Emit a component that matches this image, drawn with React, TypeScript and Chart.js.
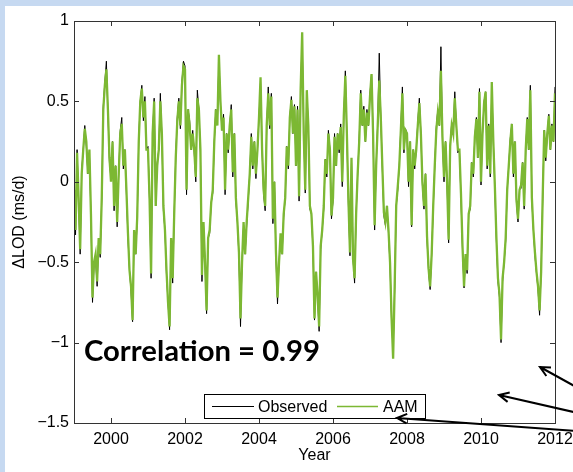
import { useEffect, useRef } from 'react';
import { Chart, registerables } from 'chart.js';

Chart.register(...registerables);

// ---- data (semi-monthly samples, starting 1999.0) ----
const START_YEAR = 1999;
const SAMPLES_PER_YEAR = 24;
const X_TICKS = [2000, 2002, 2004, 2006, 2008, 2010, 2012];
const Y_TICKS = [-1.5, -1, -0.5, 0, 0.5, 1];
const SERIES_LABELS = ['Observed', 'AAM'];
const CORRELATION_TEXT = 'Correlation = 0.99';
const X_TITLE = 'Year';
const Y_TITLE = '\u0394LOD (ms/d)';

const observed = [
  -0.08, -0.33, 0.2, -0.12, -0.45, 0.07, 0.2, 0.35, 0.22, 0.05, 0.18, -0.22, -0.75, -0.5, -0.48, -0.65, -0.35, -0.47, -0.1, 0.47, 0.62, 0.75, 0.43, 0.12,
  0.02, 0.25, -0.18, 0.1, -0.28, 0.05, 0.32, 0.4, 0.08, 0.2, -0.07, -0.35, -0.55, -0.68, -0.87, -0.32, -0.45, -0.24, 0.27, 0.5, 0.6, 0.38, 0.53, 0.2,
  0.22, -0.12, -0.6, 0.3, 0.52, -0.15, 0.12, 0.2, 0.55, 0.28, -0.18, -0.3, -0.58, -0.75, -0.92, -0.35, -0.63, -0.2, 0.16, 0.4, 0.52, 0.33, 0.62, 0.75,
  0.72, -0.08, 0.45, 0.38, 0.2, 0.32, 0.18, 0.0, 0.57, 0.45, 0.18, -0.62, -0.27, -0.5, -0.82, -0.35, -0.32, -0.13, -0.07, 0.25, 0.45, 0.37, 0.77, 0.48,
  0.32, 0.42, -0.08, 0.3, 0.18, 0.35, 0.48, 0.03, 0.3, -0.12, -0.25, -0.47, -0.9, -0.5, -0.27, -0.45, -0.27, -0.12, 0.05, 0.3, 0.08, 0.25, 0.02, 0.2,
  0.4, 0.62, 0.2, -0.08, -0.18, 0.35, 0.59, 0.33, 0.55, -0.26, 0.0, -0.47, -0.76, -0.5, -0.35, -0.45, -0.22, -0.1, 0.22, 0.08, 0.4, 0.53, 0.3, 0.48,
  0.1, 0.47, -0.12, 0.57, 0.9, 0.32, -0.07, 0.56, 0.35, -0.17, -0.2, -0.42, -0.86, -0.56, -0.72, -0.93, -0.42, -0.3, -0.17, 0.14, 0.03, 0.32, 0.2, -0.23,
  -0.12, 0.3, 0.1, 0.3, 0.18, 0.36, -0.03, 0.41, 0.69, 0.28, -0.14, -0.46, 0.13, -0.48, -0.63, -0.2, 0.05, 0.27, 0.57, 0.35, 0.47, 0.25, 0.45, 0.35,
  0.55, 0.67, 0.3, -0.3, 0.1, 0.37, 0.8, 0.4, 0.08, -0.21, -0.27, -0.15, -0.32, -0.52, -0.87, -1.05, -0.67, -0.15, -0.05, 0.1, 0.34, 0.59, 0.18, 0.33,
  0.3, -0.03, 0.25, -0.28, 0.2, 0.08, 0.2, 0.37, 0.52, 0.3, -0.02, -0.17, 0.05, -0.36, -0.56, -0.67, -0.45, -0.17, 0.1, 0.34, 0.45, 0.35, 0.84, 0.26,
  0.0, 0.25, -0.02, -0.38, 0.22, 0.37, 0.3, 0.56, 0.35, 0.18, 0.2, -0.1, -0.42, -0.66, -0.45, -0.57, -0.2, -0.17, 0.12, 0.03, 0.28, 0.4, 0.15, 0.58,
  -0.02, 0.3, 0.5, 0.56, 0.08, 0.36, 0.03, 0.6, 0.25, -0.05, -0.37, -0.62, -0.72, -1.0, -0.62, -0.5, -0.37, -0.05, 0.1, 0.27, 0.36, 0.03, 0.25, -0.13,
  -0.25, -0.05, -0.04, 0.12, -0.17, 0.2, 0.4, 0.2, 0.6, -0.12, -0.3, -0.46, -0.57, -0.67, -0.83, -0.56, -0.12, 0.32, 0.13, 0.3, 0.42, 0.2, 0.36, 0.25,
  0.59,
];

const aam = [
  -0.05, -0.3, 0.18, -0.1, -0.42, 0.05, 0.2, 0.33, 0.25, 0.05, 0.2, -0.2, -0.72, -0.5, -0.45, -0.62, -0.35, -0.45, -0.1, 0.45, 0.6, 0.7, 0.45, 0.15,
  0.0, 0.25, -0.15, 0.1, -0.25, 0.05, 0.3, 0.36, 0.1, 0.2, -0.05, -0.32, -0.55, -0.65, -0.86, -0.3, -0.45, -0.22, 0.25, 0.5, 0.58, 0.4, 0.5, 0.2,
  0.2, -0.1, -0.57, 0.3, 0.5, -0.15, 0.1, 0.2, 0.5, 0.3, -0.15, -0.3, -0.55, -0.75, -0.9, -0.35, -0.6, -0.2, 0.15, 0.38, 0.5, 0.35, 0.6, 0.72,
  0.7, -0.05, 0.45, 0.35, 0.2, 0.3, 0.2, 0.03, 0.52, 0.45, 0.2, -0.58, -0.25, -0.5, -0.8, -0.35, -0.3, -0.13, -0.05, 0.25, 0.45, 0.35, 0.79, 0.5,
  0.32, 0.4, -0.05, 0.3, 0.2, 0.35, 0.45, 0.06, 0.3, -0.1, -0.25, -0.44, -0.85, -0.5, -0.25, -0.45, -0.25, -0.1, 0.05, 0.28, 0.1, 0.25, 0.05, 0.2,
  0.4, 0.65, 0.2, -0.05, -0.15, 0.35, 0.55, 0.35, 0.53, -0.23, 0.0, -0.44, -0.72, -0.5, -0.32, -0.45, -0.2, -0.1, 0.22, 0.1, 0.4, 0.51, 0.3, 0.47,
  0.1, 0.45, -0.09, 0.57, 0.93, 0.3, -0.05, 0.57, 0.35, -0.15, -0.2, -0.4, -0.85, -0.56, -0.7, -0.9, -0.4, -0.3, -0.15, 0.14, 0.05, 0.3, 0.2, -0.21,
  -0.1, 0.28, 0.1, 0.3, 0.2, 0.34, 0.0, 0.41, 0.66, 0.3, -0.11, -0.44, 0.15, -0.48, -0.6, -0.2, 0.05, 0.25, 0.55, 0.35, 0.45, 0.25, 0.43, 0.35,
  0.53, 0.67, 0.3, -0.27, 0.1, 0.35, 0.63, 0.4, 0.1, -0.19, -0.25, -0.15, -0.3, -0.5, -0.85, -1.1, -0.65, -0.15, -0.03, 0.1, 0.32, 0.55, 0.2, 0.32,
  0.3, 0.0, 0.25, -0.27, 0.2, 0.1, 0.2, 0.35, 0.49, 0.3, 0.0, -0.15, 0.05, -0.34, -0.54, -0.65, -0.45, -0.15, 0.1, 0.32, 0.43, 0.35, 0.69, 0.28,
  0.03, 0.25, 0.0, -0.36, 0.22, 0.35, 0.3, 0.52, 0.35, 0.2, 0.2, -0.07, -0.4, -0.65, -0.45, -0.55, -0.2, -0.15, 0.12, 0.05, 0.28, 0.39, 0.15, 0.56,
  0.0, 0.3, 0.49, 0.56, 0.1, 0.35, 0.05, 0.62, 0.25, -0.03, -0.35, -0.6, -0.7, -0.98, -0.6, -0.5, -0.35, -0.05, 0.1, 0.25, 0.36, 0.05, 0.25, -0.11,
  -0.23, -0.05, -0.02, 0.12, -0.15, 0.2, 0.39, 0.2, 0.57, -0.1, -0.3, -0.44, -0.56, -0.65, -0.8, -0.56, -0.1, 0.32, 0.15, 0.3, 0.41, 0.2, 0.35, 0.25,
  0.55,
];

// ---- styling ----
const W = 573;
const H = 472;
const BLACK = '#000000';
const GREEN = '#7cb833';
const AXIS = '#333333';
const FONT = '"Liberation Sans", Arial, sans-serif';
const FS = 16;

const toPoints = (vals: number[]) =>
  vals.map((v, i) => ({ x: START_YEAR + i / SAMPLES_PER_YEAR, y: v }));

const fmt = (v: number) => (v < 0 ? '\u2212' + String(Math.abs(v)) : String(v));

const decor = {
  id: 'decor',
  afterDraw(chart: any) {
    const { ctx, chartArea } = chart;
    const { left, right, top, bottom } = chartArea;
    const xs = chart.scales.x;
    const ys = chart.scales.y;
    ctx.save();
    // axes box
    ctx.strokeStyle = AXIS;
    ctx.lineWidth = 1;
    ctx.strokeRect(Math.round(left) + 0.5, Math.round(top) + 0.5, Math.round(right - left), Math.round(bottom - top));
    // inward ticks
    const TL = 5;
    ctx.beginPath();
    X_TICKS.forEach((t) => {
      const px = Math.round(xs.getPixelForValue(t)) + 0.5;
      ctx.moveTo(px, bottom);
      ctx.lineTo(px, bottom - TL);
      ctx.moveTo(px, top);
      ctx.lineTo(px, top + TL);
    });
    Y_TICKS.forEach((t) => {
      const py = Math.round(ys.getPixelForValue(t)) + 0.5;
      ctx.moveTo(left, py);
      ctx.lineTo(left + TL, py);
      ctx.moveTo(right, py);
      ctx.lineTo(right - TL, py);
    });
    ctx.stroke();

    // correlation text
    ctx.fillStyle = '#000';
    ctx.font = 'bold 28px Lato, "Open Sans", sans-serif';
    ctx.textBaseline = 'alphabetic';
    ctx.textAlign = 'left';
    const target = 236;
    const w = ctx.measureText(CORRELATION_TEXT).width;
    ctx.save();
    ctx.translate(84, 361);
    ctx.scale(target / w, 1);
    ctx.fillText(CORRELATION_TEXT, 0, 0);
    ctx.restore();

    // legend box
    const lx = 204, ly = 394, lw = 221, lh = 24;
    ctx.fillStyle = '#fff';
    ctx.fillRect(lx, ly, lw, lh);
    ctx.strokeStyle = '#000';
    ctx.lineWidth = 1;
    ctx.strokeRect(lx + 0.5, ly + 0.5, lw, lh);
    const ds = chart.data.datasets;
    const cy = ly + lh / 2 + 0.5;
    ctx.font = FS + 'px ' + FONT;
    ctx.textBaseline = 'middle';
    ctx.fillStyle = '#000';
    // Observed
    ctx.strokeStyle = ds[0].borderColor;
    ctx.lineWidth = 1;
    ctx.beginPath();
    ctx.moveTo(212, cy);
    ctx.lineTo(254, cy);
    ctx.stroke();
    ctx.fillText(ds[0].label, 258, cy + 1);
    // AAM
    ctx.strokeStyle = ds[1].borderColor;
    ctx.lineWidth = 1.5;
    ctx.beginPath();
    ctx.moveTo(337, cy);
    ctx.lineTo(378, cy);
    ctx.stroke();
    ctx.fillText(ds[1].label, 383, cy + 1);

    // arrows
    const arrow = (x1: number, y1: number, x2: number, y2: number) => {
      ctx.strokeStyle = '#000';
      ctx.lineWidth = 2;
      ctx.beginPath();
      ctx.moveTo(x1, y1);
      ctx.lineTo(x2, y2);
      const a = Math.atan2(y2 - y1, x2 - x1);
      const hl = 11;
      ctx.moveTo(x2 - hl * Math.cos(a - 0.45), y2 - hl * Math.sin(a - 0.45));
      ctx.lineTo(x2, y2);
      ctx.lineTo(x2 - hl * Math.cos(a + 0.45), y2 - hl * Math.sin(a + 0.45));
      ctx.stroke();
    };
    arrow(578, 388, 540, 367);
    arrow(578, 413, 499, 395);
    arrow(578, 431, 397, 418);
    ctx.restore();
  },
};

export default function App() {
  const ref = useRef<HTMLCanvasElement | null>(null);

  useEffect(() => {
    if (!ref.current) return;
    const chart = new Chart(ref.current, {
      type: 'line',
      data: {
        datasets: [
          {
            label: SERIES_LABELS[0],
            data: toPoints(observed),
            borderColor: BLACK,
            borderWidth: 1,
            pointRadius: 0,
            tension: 0,
            order: 1,
          },
          {
            label: SERIES_LABELS[1],
            data: toPoints(aam),
            borderColor: GREEN,
            borderWidth: 2.3,
            pointRadius: 0,
            tension: 0,
            order: 0,
          },
        ],
      },
      options: {
        animation: false,
        responsive: false,
        devicePixelRatio: 1,
        layout: { padding: { left: 0, top: 21, right: 18, bottom: 0 } },
        plugins: { legend: { display: false }, tooltip: { enabled: false } },
        scales: {
          x: {
            type: 'linear',
            min: START_YEAR,
            max: 2012,
            grid: { display: false, drawTicks: false },
            border: { display: false },
            afterBuildTicks: (s: any) => {
              s.ticks = X_TICKS.map((v) => ({ value: v }));
            },
            afterFit: (s: any) => {
              s.height = 49;
              s.paddingLeft = 0;
              s.paddingRight = 0;
            },
            ticks: {
              padding: 7,
              maxRotation: 0,
              autoSkip: false,
              color: '#000',
              font: { family: FONT, size: FS },
              callback: (v: any) => String(v),
            },
            title: {
              display: true,
              text: X_TITLE,
              color: '#000',
              font: { family: FONT, size: FS },
              padding: { top: 0, bottom: 7 },
            },
          },
          y: {
            min: -1.5,
            max: 1,
            grid: { display: false, drawTicks: false },
            border: { display: false },
            afterBuildTicks: (s: any) => {
              s.ticks = Y_TICKS.map((v) => ({ value: v }));
            },
            afterFit: (s: any) => {
              s.width = 74;
              s.paddingTop = 0;
              s.paddingBottom = 0;
            },
            ticks: {
              padding: 5,
              autoSkip: false,
              color: '#000',
              font: { family: FONT, size: FS },
              callback: (v: any) => fmt(Number(v)),
            },
            title: {
              display: true,
              text: Y_TITLE,
              color: '#000',
              font: { family: FONT, size: FS },
              padding: { top: 10, bottom: 0 },
            },
          },
        },
      },
      plugins: [decor],
    });
    return () => chart.destroy();
  }, []);

  return (
    <div style={{ position: 'fixed', left: 0, top: 0, width: W, height: H, background: '#c6d9f1', overflow: 'hidden' }}>
      <div style={{ position: 'absolute', left: 5, top: 6, right: 0, bottom: 0, background: '#ffffff' }} />
      <canvas ref={ref} width={W} height={H} style={{ position: 'absolute', left: 0, top: 0, width: W, height: H }} />
    </div>
  );
}
